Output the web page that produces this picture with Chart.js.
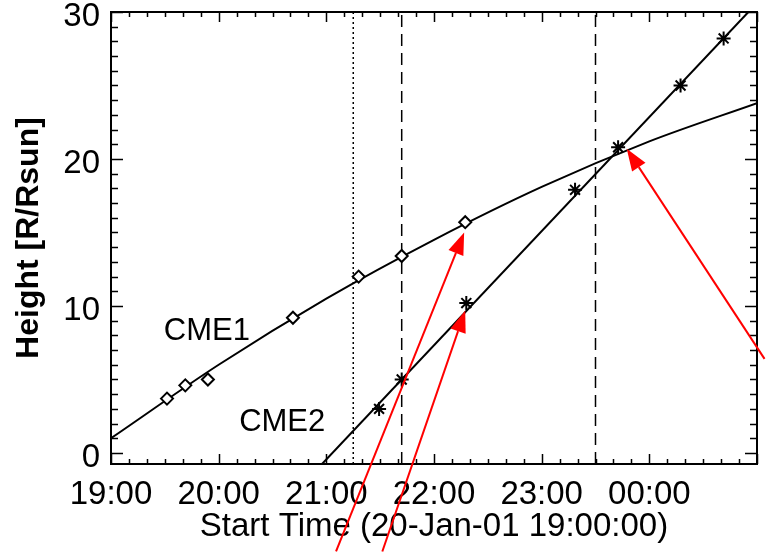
<!DOCTYPE html>
<html>
<head>
<meta charset="utf-8">
<script src="https://cdn.jsdelivr.net/npm/chart.js@4.4.1/dist/chart.umd.min.js"></script>
<style>
html, body { margin: 0; padding: 0; background: #fff; }
</style>
</head>
<body>
<canvas id="myChart" width="766" height="552"></canvas>
<script>
// times are hours after 20-Jan-01 19:00:00, heights in R/Rsun
var cme1Times = [0.52, 0.69, 0.90, 1.69, 2.30, 2.70, 3.29];
var cme1Heights = [3.7, 4.6, 5.0, 9.2, 12.0, 13.4, 15.7];
var cme1FitTimes = [0, 1, 2, 3, 4, 5, 6];
var cme1FitHeights = [1.0, 6.0, 10.5, 14.5, 18.1, 21.2, 23.8];

var cme2Times = [2.49, 2.70, 3.30, 4.31, 4.71, 5.29, 5.69];
var cme2Heights = [3.0, 5.0, 10.2, 17.9, 20.8, 25.0, 28.2];
var cme2FitTimes = [1.96, 5.92];
var cme2FitHeights = [-0.75, 30];

var dottedTimes = [2.25];
var dashedTimes = [2.70, 4.50];

var hourLabels = ['19:00', '20:00', '21:00', '22:00', '23:00', '00:00'];
var hourTicks = [0, 1, 2, 3, 4, 5];
var heightTicks = [0, 10, 20, 30];

var noteTexts = ['CME1', 'CME2'];
var noteTimes = [0.89, 1.59];
var noteHeights = [8.3, 2.1];

// red arrows: tail -> tip
var arrowFromTimes = [2.09, 2.52, 6.07];
var arrowFromHeights = [-6.7, -6.7, 6.4];
var arrowToTimes = [3.28, 3.29, 4.79];
var arrowToHeights = [15.0, 9.7, 20.7];

var yMin = -0.75, yMax = 30;

function pts(xs, ys) {
    var out = [];
    for (var i = 0; i < xs.length; i++) out.push({x: xs[i], y: ys[i]});
    return out;
}

var vlines = [];
dottedTimes.forEach(function(t){
    vlines.push({data: pts([t, t], [yMin, yMax]), borderColor: '#000', borderWidth: 1.5,
        borderDash: [2, 3], showLine: true, pointRadius: 0, order: 5});
});
dashedTimes.forEach(function(t){
    vlines.push({data: pts([t, t], [yMin, yMax]), borderColor: '#000', borderWidth: 1.5,
        borderDash: [12, 7], showLine: true, pointRadius: 0, order: 5});
});

var FONT = "'Liberation Sans', Arial, Helvetica, sans-serif";

var framePlugin = {
    id: 'frame',
    afterDatasetsDraw: function(chart) {
        var ctx = chart.ctx, a = chart.chartArea;
        var xs = chart.scales.x, ys = chart.scales.y;
        ctx.save();
        ctx.strokeStyle = '#000';
        ctx.lineWidth = 2;
        ctx.strokeRect(a.left, a.top, a.right - a.left, a.bottom - a.top);
        ctx.lineWidth = 1.5;
        ctx.beginPath();
        // x ticks every 10 minutes, hourly majors
        for (var k = 0; k <= 36; k++) {
            var px = Math.round(xs.getPixelForValue(k / 6)) + 0.5;
            var len = (k % 6 === 0) ? 10 : 5;
            ctx.moveTo(px, a.bottom); ctx.lineTo(px, a.bottom - len);
            ctx.moveTo(px, a.top); ctx.lineTo(px, a.top + len);
        }
        // y ticks every 1, majors every 10
        for (var v = 0; v <= 30; v++) {
            var py = Math.round(ys.getPixelForValue(v)) + 0.5;
            var l2 = (v % 10 === 0) ? 12 : 7;
            ctx.moveTo(a.left, py); ctx.lineTo(a.left + l2, py);
            ctx.moveTo(a.right, py); ctx.lineTo(a.right - l2, py);
        }
        ctx.stroke();
        ctx.restore();
    },
    afterDraw: function(chart) {
        var ctx = chart.ctx;
        var xs = chart.scales.x, ys = chart.scales.y;
        ctx.save();
        // notes
        ctx.fillStyle = '#000';
        ctx.font = '31px ' + FONT;
        ctx.textAlign = 'center';
        ctx.textBaseline = 'middle';
        for (var i = 0; i < noteTexts.length; i++) {
            ctx.fillText(noteTexts[i], xs.getPixelForValue(noteTimes[i]), ys.getPixelForValue(noteHeights[i]));
        }
        // arrows
        ctx.strokeStyle = '#ff0000';
        ctx.fillStyle = '#ff0000';
        ctx.lineWidth = 2;
        for (var j = 0; j < arrowFromTimes.length; j++) {
            var x0 = xs.getPixelForValue(arrowFromTimes[j]), y0 = ys.getPixelForValue(arrowFromHeights[j]);
            var x1 = xs.getPixelForValue(arrowToTimes[j]), y1 = ys.getPixelForValue(arrowToHeights[j]);
            var ang = Math.atan2(y1 - y0, x1 - x0);
            var hl = 22, hw = 8;
            var bx = x1 - hl * Math.cos(ang), by = y1 - hl * Math.sin(ang);
            ctx.beginPath();
            ctx.moveTo(x0, y0); ctx.lineTo(bx, by);
            ctx.stroke();
            ctx.beginPath();
            ctx.moveTo(x1, y1);
            ctx.lineTo(bx + hw * Math.sin(ang), by - hw * Math.cos(ang));
            ctx.lineTo(bx - hw * Math.sin(ang), by + hw * Math.cos(ang));
            ctx.closePath();
            ctx.fill();
        }
        ctx.restore();
    }
};

var ctx = document.getElementById('myChart');

var myChart = new Chart(ctx, {
    type: 'scatter',
    data: {
        datasets: [
            {
                label: 'CME1',
                data: pts(cme1Times, cme1Heights),
                pointStyle: 'rectRot', pointRadius: 6,
                backgroundColor: '#fff', borderColor: '#000', borderWidth: 2,
                order: 0
            },
            {
                label: 'CME2',
                data: pts(cme2Times, cme2Heights),
                pointStyle: 'star', pointRadius: 7,
                backgroundColor: '#000', borderColor: '#000', borderWidth: 2,
                order: 0
            },
            {
                label: 'CME1 fit',
                data: pts(cme1FitTimes, cme1FitHeights),
                showLine: true, pointRadius: 0, borderColor: '#000', borderWidth: 2,
                cubicInterpolationMode: 'monotone',
                order: 2
            },
            {
                label: 'CME2 fit',
                data: pts(cme2FitTimes, cme2FitHeights),
                showLine: true, pointRadius: 0, borderColor: '#000', borderWidth: 2,
                order: 2
            }
        ].concat(vlines)
    },
    options: {
        responsive: false,
        animation: false,
        layout: { padding: { top: 12, right: 8, left: 0, bottom: 0 } },
        plugins: { legend: { display: false }, tooltip: { enabled: false } },
        scales: {
            x: {
                type: 'linear', min: 0, max: 6,
                grid: { display: false, drawTicks: false },
                border: { display: false },
                afterBuildTicks: function(s){ s.ticks = hourTicks.map(function(v){ return {value: v}; }); },
                afterFit: function(s){ s.height = 88; s.paddingLeft = 0; s.paddingRight = 0; },
                ticks: {
                    autoSkip: false, maxRotation: 0, padding: 11, color: '#000',
                    font: { family: FONT, size: 33 },
                    callback: function(v){ return hourLabels[v]; }
                },
                title: {
                    display: true, text: 'Start Time (20-Jan-01 19:00:00)', color: '#000',
                    font: { family: FONT, size: 33 }, padding: { top: 0, bottom: 5 }
                }
            },
            y: {
                type: 'linear', min: yMin, max: yMax,
                grid: { display: false, drawTicks: false },
                border: { display: false },
                afterBuildTicks: function(s){ s.ticks = heightTicks.map(function(v){ return {value: v}; }); },
                afterFit: function(s){ s.width = 111; s.paddingTop = 0; s.paddingBottom = 0; },
                ticks: {
                    padding: 11, color: '#000', labelOffset: 5,
                    font: { family: FONT, size: 33 }
                },
                title: {
                    display: true, text: 'Height [R/Rsun]', color: '#000',
                    font: { family: FONT, size: 32, weight: 'bold' }, padding: { top: 10, bottom: 0 }
                }
            }
        }
    },
    plugins: [framePlugin]
});
</script>
</body>
</html>
